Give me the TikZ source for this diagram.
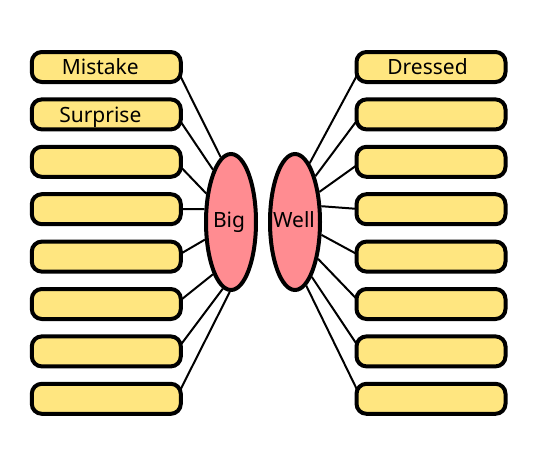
\documentclass[tikz,border=0pt]{standalone}
\usepackage{fontspec}
\setmainfont{Noto Sans}
\usetikzlibrary{shapes.geometric,backgrounds,calc}
\definecolor{boxfill}{RGB}{255,230,128}
\definecolor{ellfill}{RGB}{255,140,145}
\tikzset{
  wordbox/.style={draw=black, fill=boxfill, line width=4pt, rounded corners=10pt,
    minimum width=149pt, minimum height=30pt, inner sep=0pt},
  hub/.style={draw=black, fill=ellfill, ellipse, line width=4pt,
    minimum width=50pt, minimum height=136pt, inner sep=0pt},
  link/.style={draw=black, line width=2pt},
  lbl/.style={anchor=base, font=\fontsize{21}{25}\selectfont, inner sep=0pt}
}
\begin{document}
\begin{tikzpicture}[x=1pt,y=-1pt]
\useasboundingbox (0,0) rectangle (544,469);
% hubs
\node[hub] (big) at (231,222) {};
\node[hub] (well) at (295,222) {};
\node[lbl] (tbig) at ($(big.center)+(-2,5.5)$) {Big};
\node[lbl] (twell) at ($(well.center)+(-1,5.5)$) {Well};
% boxes
\foreach \i/\y in {1/67,2/114.4,3/161.8,4/209.2,5/256.6,6/304,7/351.4,8/398.8}{
  \node[wordbox] (L\i) at (106.3,\y) {};
  \node[wordbox] (R\i) at (431,\y) {};
}
\node[lbl] (tmistake) at ($(L1.center)+(-6,7.5)$) {Mistake};
\node[lbl] (tsurprise) at ($(L2.center)+(-6,7.8)$) {Surprise};
\node[lbl] (tdressed) at ($(R1.center)+(-3.5,7.8)$) {Dressed};
% links
\begin{scope}[on background layer]
\foreach \i/\a in {1/99,2/109,3/131,4/154,5/214,6/251,7/263,8/269}{
  \draw[link] ($(L\i.east)+(-7,0)$) -- (big.\a);
}
\foreach \i/\a in {1/76,2/66,3/51,4/31,5/-26,6/-58,7/-73,8/-80}{
  \draw[link] ($(R\i.west)+(7,0)$) -- (well.\a);
}
\end{scope}
\end{tikzpicture}
\end{document}
